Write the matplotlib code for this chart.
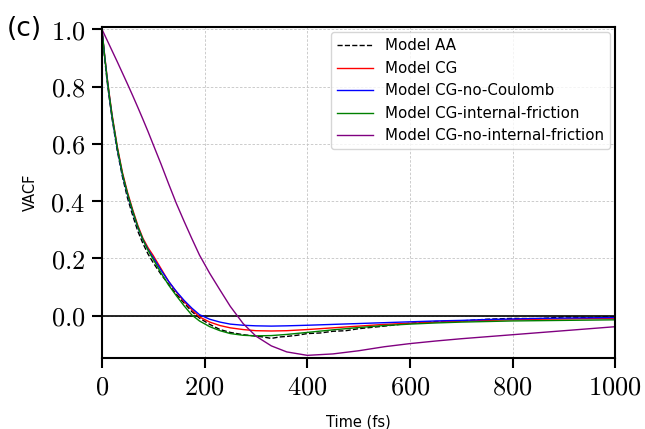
import matplotlib
matplotlib.use("Agg")
from matplotlib import pyplot as plt
from matplotlib.ticker import FuncFormatter

plt.rcParams['mathtext.fontset'] = 'cm'
plt.rcParams['font.family'] = 'DejaVu Sans'

# time grid (fs) shared by the CG models
t = [0, 5, 10, 15, 20, 30, 40, 50, 60, 70, 80, 90, 100, 115, 130, 145, 160, 175, 190,
     210, 230, 250, 275, 300, 330, 360, 400, 450, 500, 550, 600, 650, 700, 750, 800,
     850, 900, 950, 1000]

# reference all-atom VACF (slightly noisy)
t_aa = [0, 5, 10, 15, 20, 30, 40, 50, 60, 70, 80, 90, 100, 115, 130, 145, 160, 175, 190,
        210, 230, 250, 275, 300, 315, 330, 345, 360, 380, 400, 425, 450, 475, 500, 550,
        600, 650, 700, 750, 800, 850, 900, 950, 1000]
vacf_aa = [1.0, 0.905, 0.82, 0.75, 0.685, 0.575, 0.485, 0.41, 0.35, 0.295, 0.252, 0.215,
           0.185, 0.145, 0.11, 0.075, 0.045, 0.015, -0.008, -0.03, -0.048, -0.058, -0.066,
           -0.071, -0.074, -0.079, -0.074, -0.072, -0.068, -0.062, -0.060, -0.054, -0.052,
           -0.045, -0.036, -0.026, -0.020, -0.018, -0.012, -0.009, -0.010, -0.004, -0.006,
           -0.003]

vacf_cg = [1.0, 0.915, 0.835, 0.765, 0.70, 0.59, 0.50, 0.43, 0.37, 0.315, 0.27, 0.237,
           0.21, 0.165, 0.12, 0.083, 0.05, 0.022, -0.004, -0.022, -0.034, -0.042, -0.048,
           -0.052, -0.053, -0.052, -0.048, -0.042, -0.036, -0.030, -0.026, -0.022, -0.019,
           -0.016, -0.014, -0.012, -0.011, -0.010, -0.009]

vacf_nocoul = [1.0, 0.912, 0.83, 0.758, 0.692, 0.582, 0.492, 0.423, 0.363, 0.309, 0.265,
               0.231, 0.203, 0.16, 0.12, 0.085, 0.054, 0.027, 0.004, -0.012, -0.022, -0.029,
               -0.033, -0.035, -0.036, -0.035, -0.033, -0.030, -0.027, -0.024, -0.021,
               -0.018, -0.016, -0.013, -0.011, -0.009, -0.008, -0.007, -0.006]

vacf_intfric = [1.0, 0.91, 0.83, 0.76, 0.695, 0.585, 0.495, 0.425, 0.365, 0.31, 0.265,
                0.228, 0.197, 0.15, 0.107, 0.07, 0.035, 0.003, -0.018, -0.038, -0.052,
                -0.062, -0.068, -0.070, -0.069, -0.065, -0.058, -0.049, -0.041, -0.034,
                -0.029, -0.025, -0.022, -0.020, -0.018, -0.017, -0.016, -0.015, -0.014]

vacf_nointfric = [1.0, 0.981, 0.962, 0.943, 0.924, 0.886, 0.847, 0.808, 0.768, 0.727,
                  0.685, 0.642, 0.597, 0.53, 0.46, 0.392, 0.33, 0.27, 0.212, 0.148, 0.09,
                  0.033, -0.027, -0.071, -0.105, -0.126, -0.138, -0.133, -0.122, -0.108,
                  -0.097, -0.088, -0.080, -0.073, -0.066, -0.059, -0.052, -0.045, -0.038]

fig = plt.figure(figsize=(6.45, 4.29), dpi=100)
ax = fig.add_axes([0.158, 0.165, 0.796, 0.773])

ax.plot(t_aa, vacf_aa, 'k--', lw=1.0, label='Model AA')
ax.plot(t, vacf_cg, color='red', lw=1.0, label='Model CG')
ax.plot(t, vacf_nocoul, color='blue', lw=1.0, label='Model CG-no-Coulomb')
ax.plot(t, vacf_intfric, color='green', lw=1.0, label='Model CG-internal-friction')
ax.plot(t, vacf_nointfric, color='purple', lw=1.0, label='Model CG-no-internal-friction')
ax.axhline(0, color='black', lw=1.2, zorder=1.8)

ax.set_xlim(0, 1000)
ax.set_ylim(-0.148, 1.009)
ax.set_xticks([0, 200, 400, 600, 800, 1000])
ax.set_yticks([0.0, 0.2, 0.4, 0.6, 0.8, 1.0])
ax.xaxis.set_major_formatter(FuncFormatter(lambda v, p: f"${v:.0f}$"))
ax.yaxis.set_major_formatter(FuncFormatter(lambda v, p: f"${v:.1f}$"))
ax.tick_params(axis='both', labelsize=19, length=7, width=1.5, direction='out', pad=5)
for s in ax.spines.values():
    s.set_linewidth(1.5)
ax.grid(True, ls=(0, (3, 2)), lw=0.6, color='#c4c4c4')

ax.set_xlabel('Time (fs)', fontsize=10.5, labelpad=10)
ax.set_ylabel('VACF', fontsize=10.5, labelpad=9)
ax.legend(loc='upper right', fontsize=10.8, handlelength=2.4,
          bbox_to_anchor=(1.005, 1.005), edgecolor='#cccccc')
fig.text(0.011, 0.915, '(c)', fontsize=19)

fig.savefig('out.png', dpi=100)
